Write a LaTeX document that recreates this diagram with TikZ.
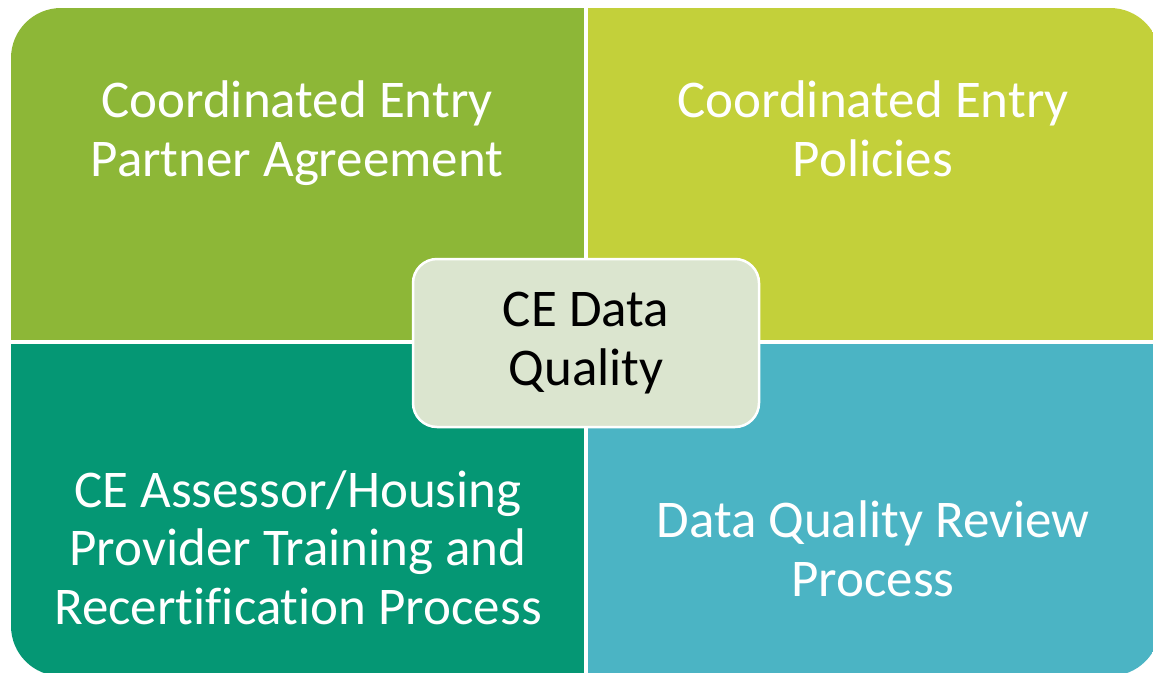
\documentclass[tikz,border=0pt]{standalone}
\usepackage{fontspec}
\setmainfont{Carlito}[Ligatures=CommonOff]
\definecolor{tlc}{HTML}{8DB737}
\definecolor{trc}{HTML}{C3D03A}
\definecolor{blc}{HTML}{059774}
\definecolor{brc}{HTML}{4BB4C4}
\definecolor{cenc}{HTML}{DBE5CF}
\tikzset{
  quad/.style={rectangle, inner sep=0pt, draw=none},
  qtext/.style={text=white, align=center, font=\fontsize{53}{58.5}\selectfont, inner sep=0pt, anchor=base},
  centre/.style={draw=white, line width=2.5pt, fill=cenc, rounded corners=24pt, inner sep=0pt,
    minimum width=346pt, minimum height=168pt},
  ctext/.style={align=center, font=\fontsize{53}{58.5}\selectfont, text=black, inner sep=0pt, anchor=base}
}
\begin{document}
\begin{tikzpicture}[x=1pt,y=-1pt]
\useasboundingbox (0,0) rectangle (1153,672);
\begin{scope}
  \clip[rounded corners=50pt] (11,8) rectangle (1160,676);
  \node[quad, fill=tlc, minimum width=573pt, minimum height=332pt, anchor=north west] (tl) at (11,8) {};
  \node[quad, fill=trc, minimum width=572pt, minimum height=332pt, anchor=north west] (tr) at (588,8) {};
  \node[quad, fill=blc, minimum width=573pt, minimum height=332pt, anchor=north west] (bl) at (11,344) {};
  \node[quad, fill=brc, minimum width=572pt, minimum height=332pt, anchor=north west] (br) at (588,344) {};
\end{scope}
\node[qtext] (tltext) at (297,176) {Coordinated Entry\\Partner Agreement};
\node[qtext] (trtext) at (873,176) {Coordinated Entry\\Policies};
\node[qtext] (bltext) at (298,624) {CE Assessor/Housing\\Provider Training and\\Recertification Process};
\node[qtext] (brtext) at (873,596) {Data Quality Review\\Process};
\node[centre] (c) at (586,343) {};
\node[ctext] (ctxt) at (586,385) {CE Data\\Quality};
\end{tikzpicture}
\end{document}
